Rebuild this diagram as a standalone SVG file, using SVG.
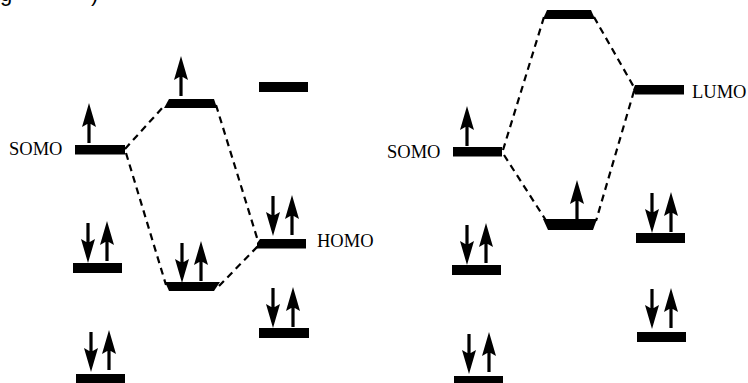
<svg xmlns="http://www.w3.org/2000/svg" width="748" height="383" viewBox="0 0 748 383">
<style>
.bar{fill:#000}
.lbl{font-family:"Liberation Serif","Times New Roman",serif;font-size:18.5px;fill:#000}
.frag{font-family:"Liberation Sans",Arial,sans-serif;font-size:22px;fill:#000}
.dash{fill:none;stroke:#000;stroke-width:2.2;stroke-dasharray:7 5}
</style>
<defs>
<path id="up" d="M-1.6,40 V19 H1.6 V40 Z M0,0 L7,24 L0,20 L-7,24 Z" fill="#000"/>
<path id="dn" d="M-1.6,0 V21 H1.6 V0 Z M0,40 L7,16 L0,20 L-7,16 Z" fill="#000"/>
</defs>
<rect width="748" height="383" fill="#fff"/>
<text class="frag" x="0" y="1">g</text>
<text class="frag" x="91" y="1">)</text>

<g id="connectors">
<line class="dash" x1="125" y1="149" x2="164" y2="106"/>
<line class="dash" x1="126" y1="153" x2="166" y2="285"/>
<line class="dash" x1="216" y1="105" x2="258" y2="241"/>
<line class="dash" x1="219" y1="286" x2="258" y2="246"/>
<line class="dash" x1="503" y1="150" x2="544" y2="17"/>
<line class="dash" x1="504" y1="155" x2="547" y2="222"/>
<line class="dash" x1="594" y1="17" x2="635" y2="89"/>
<line class="dash" x1="634" y1="91" x2="596" y2="221"/>
</g>

<g id="left-somo">
<rect class="bar" x="75" y="145" width="50" height="9.5"/>
<use href="#up" x="89" y="103"/>
<text class="lbl" x="9" y="155">SOMO</text>
</g>
<g id="left-mo2">
<rect class="bar" x="73" y="263" width="49" height="10"/>
<use href="#dn" x="88" y="223"/>
<use href="#up" x="107" y="221"/>
</g>
<g id="left-mo3">
<rect class="bar" x="76" y="374" width="49" height="10"/>
<use href="#dn" x="91" y="332"/>
<use href="#up" x="109" y="330"/>
</g>
<g id="left-antibonding">
<polygon class="bar" points="169,99 214,99 217,108 164,108"/>
<use href="#up" x="181" y="56"/>
</g>
<g id="left-bonding">
<polygon class="bar" points="165,282 220,282 214,291 169,291"/>
<use href="#dn" x="182" y="243"/>
<use href="#up" x="201" y="241"/>
</g>
<g id="left-empty">
<rect class="bar" x="259" y="82" width="49" height="10"/>
</g>
<g id="homo">
<polygon class="bar" points="260,239 306,239 306,248.5 257,248.5 257,243"/>
<use href="#dn" x="273" y="196"/>
<use href="#up" x="292" y="195"/>
<text class="lbl" x="317" y="247">HOMO</text>
</g>
<g id="left-mo-low">
<rect class="bar" x="259" y="328" width="50" height="10"/>
<use href="#dn" x="273" y="288"/>
<use href="#up" x="293" y="287"/>
</g>

<g id="right-somo">
<rect class="bar" x="453" y="147" width="49" height="9.5"/>
<use href="#up" x="467" y="106"/>
<text class="lbl" x="387" y="158">SOMO</text>
</g>
<g id="right-mo2">
<rect class="bar" x="452" y="265" width="49" height="10"/>
<use href="#dn" x="467" y="225"/>
<use href="#up" x="486" y="223"/>
</g>
<g id="right-mo3">
<rect class="bar" x="454" y="376" width="49" height="10"/>
<use href="#dn" x="469" y="334"/>
<use href="#up" x="489" y="332"/>
</g>
<g id="right-antibonding">
<polygon class="bar" points="547,10 591,10 595,19 543,19"/>
</g>
<g id="right-bonding">
<polygon class="bar" points="543,219 597,219 593,230 548,230"/>
<use href="#up" x="577" y="180"/>
</g>
<g id="lumo">
<polygon class="bar" points="635,85 684,85 684,94.5 635,94.5 633,90"/>
<text class="lbl" x="692" y="98">LUMO</text>
</g>
<g id="right-mo-a">
<rect class="bar" x="636" y="233" width="49" height="10"/>
<use href="#dn" x="652" y="193"/>
<use href="#up" x="671" y="192"/>
</g>
<g id="right-mo-b">
<rect class="bar" x="637" y="332" width="49" height="10"/>
<use href="#dn" x="652" y="289"/>
<use href="#up" x="671" y="288"/>
</g>
</svg>
